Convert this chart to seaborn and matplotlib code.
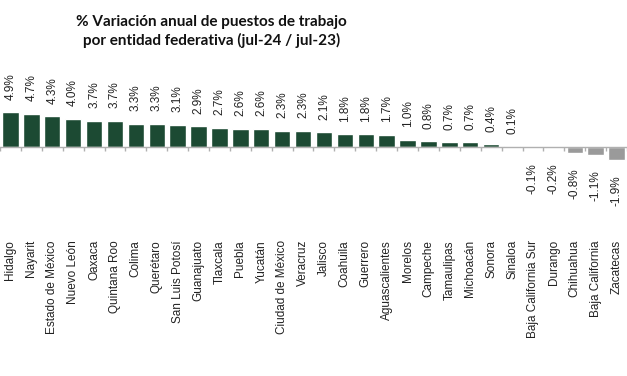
import numpy as np
import pandas as pd
import matplotlib
matplotlib.use("Agg")
import matplotlib.pyplot as plt
import seaborn as sns

sns.set_theme(style='white')
plt.rcParams['font.family'] = ['Liberation Sans', 'DejaVu Sans']

states = ['Hidalgo', 'Nayarit', 'Estado de México', 'Nuevo León', 'Oaxaca',
          'Quintana Roo', 'Colima', 'Querétaro', 'San Luis Potosí', 'Guanajuato',
          'Tlaxcala', 'Puebla', 'Yucatán', 'Ciudad de México', 'Veracruz',
          'Jalisco', 'Coahuila', 'Guerrero', 'Aguascalientes', 'Morelos',
          'Campeche', 'Tamaulipas', 'Michoacán', 'Sonora', 'Sinaloa',
          'Baja California Sur', 'Durango', 'Chihuahua', 'Baja California',
          'Zacatecas']
values = [4.9, 4.7, 4.3, 4.0, 3.7, 3.7, 3.3, 3.3, 3.1, 2.9, 2.7, 2.6, 2.6,
          2.3, 2.3, 2.1, 1.8, 1.8, 1.7, 1.0, 0.8, 0.7, 0.7, 0.4, 0.1,
          -0.1, -0.2, -0.8, -1.1, -1.9]

green = '#1c4a33'
gray = '#9a9a9a'

df = pd.DataFrame({'Estado': states, 'Var': values})
colors = [green if v >= 0 else gray for v in values]

fig = plt.figure(figsize=(6.27, 3.76), dpi=100)
ax = fig.add_axes([0, 0.3617, 1, 0.4787])

sns.barplot(data=df, x='Estado', y='Var', hue='Estado', palette=colors,
            legend=False, width=0.78, saturation=1, ax=ax)

n = len(states)
ax.set_xlim(-0.42, n - 1 + 0.42)
ax.set_ylim(-13.1, 12.25)

# etiquetas de valor
for i, v in enumerate(values):
    off = 9 if v >= 0 else -11
    ax.annotate(f'{v:.1f}%', (i, v), xytext=(0, off), textcoords='offset points',
                rotation=90, ha='center', va='bottom' if v >= 0 else 'top',
                fontsize=8.5, color='#222222')

for s in ['top', 'right', 'left']:
    ax.spines[s].set_visible(False)
ax.spines['bottom'].set_position(('data', 0))
ax.spines['bottom'].set_color('#b0b0b0')
ax.spines['bottom'].set_linewidth(1)

ax.set_yticks([])
ax.set_xticks(range(n))
ax.set_xticklabels(states, rotation=90, ha='center', va='top', fontsize=8.5,
                   color='#222222')
ax.set_xticks(np.arange(-0.5, n), minor=True)
ax.tick_params(axis='x', which='major', length=0, pad=67)
ax.tick_params(axis='x', which='minor', length=3, color='#b0b0b0',
               direction='out', bottom=True)
ax.set_xlabel('')
ax.set_ylabel('')

fig.text(0.337, 0.96, '% Variación anual de puestos de trabajo\npor entidad federativa (jul-24 / jul-23)',
         ha='center', va='top', fontsize=11, fontweight='bold',
         family=['Lato', 'DejaVu Sans'], linespacing=1.3, color='#111111')

fig.savefig('out.png', dpi=100, facecolor='white')
